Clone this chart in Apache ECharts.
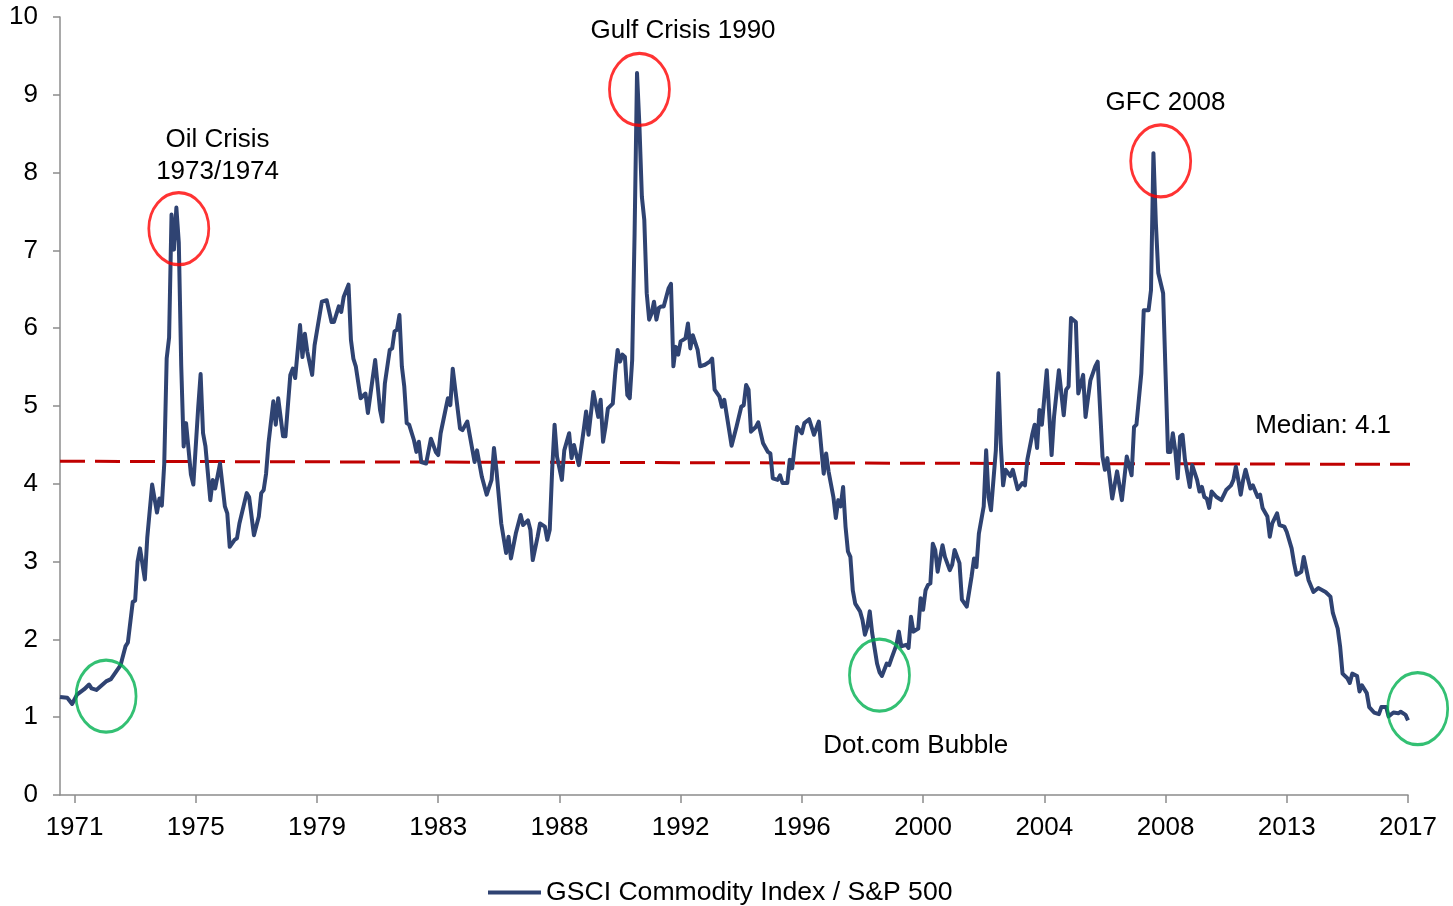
<!DOCTYPE html>
<html>
<head>
<meta charset="utf-8">
<script src="https://cdn.jsdelivr.net/npm/echarts@6/dist/echarts.min.js"></script>
<style>html,body{margin:0;padding:0;background:#fff}#c{width:1453px;height:906px}</style>
</head>
<body>
<div id="c"></div>
<script>
// ---- data ----
const dates = [
'1970-12','1971-03','1971-05','1971-07','1971-10','1971-12','1972-01','1972-03','1972-07','1972-09','1972-11',
'1973-01','1973-03','1973-04','1973-06','1973-07','1973-08','1973-09','1973-11','1973-12',
'1974-02','1974-04','1974-05','1974-06','1974-07','1974-08','1974-09','1974-10','1974-11','1974-12',
'1975-01','1975-02','1975-03','1975-04','1975-06','1975-07','1975-09','1975-10','1975-11','1975-12',
'1976-02','1976-03','1976-04','1976-06','1976-08','1976-09','1976-10','1976-12',
'1977-01','1977-02','1977-05','1977-06','1977-08','1977-10','1977-11','1977-12',
'1978-01','1978-02','1978-04','1978-05','1978-06','1978-08','1978-09','1978-11','1978-12',
'1979-01','1979-03','1979-04','1979-05','1979-06','1979-08','1979-09','1979-12',
'1980-02','1980-04','1980-05','1980-07','1980-08','1980-09','1980-11','1980-12',
'1981-01','1981-02','1981-04','1981-06','1981-07','1981-08','1981-10','1981-12',
'1982-01','1982-02','1982-04','1982-05','1982-06','1982-07','1982-08','1982-09','1982-10','1982-11','1982-12',
'1983-02','1983-03','1983-04','1983-05','1983-07','1983-09','1983-11','1983-12',
'1984-01','1984-04','1984-05','1984-06','1984-09','1984-10','1984-12',
'1985-03','1985-04','1985-06','1985-08','1985-10','1985-11','1985-12',
'1986-02','1986-04','1986-05','1986-06','1986-08','1986-10','1986-11',
'1987-01','1987-02','1987-03','1987-05','1987-06','1987-08','1987-09','1987-10','1987-11','1987-12',
'1988-01','1988-03','1988-04','1988-06','1988-07','1988-08','1988-10','1988-12',
'1989-01','1989-02','1989-04','1989-06','1989-07','1989-08','1989-09','1989-10','1989-12',
'1990-01','1990-02','1990-03','1990-04','1990-05','1990-06','1990-07','1990-08','1990-09','1990-10','1990-11','1990-12',
'1991-01','1991-02','1991-03','1991-04','1991-05','1991-06','1991-07','1991-08','1991-09','1991-11','1991-12',
'1992-01','1992-02','1992-03','1992-04','1992-06','1992-07','1992-08','1992-09','1992-11','1992-12',
'1993-02','1993-04','1993-05','1993-06','1993-08','1993-09','1993-10','1993-12',
'1994-01','1994-03','1994-05','1994-06','1994-07','1994-08','1994-09','1994-11','1994-12',
'1995-02','1995-04','1995-05','1995-06','1995-08','1995-09','1995-10','1995-12',
'1996-01','1996-02','1996-03','1996-04','1996-06','1996-07','1996-09','1996-10','1996-11',
'1997-01','1997-02','1997-03','1997-04','1997-05','1997-07','1997-08','1997-09','1997-10','1997-11','1997-12',
'1998-01','1998-02','1998-03','1998-04','1998-06','1998-07','1998-08','1998-09','1998-10','1998-11',
'1999-01','1999-02','1999-03','1999-05','1999-06','1999-07','1999-09','1999-10','1999-11',
'2000-01','2000-02','2000-03','2000-04','2000-06','2000-07','2000-08','2000-09','2000-10','2000-11','2000-12',
'2001-01','2001-02','2001-04','2001-05','2001-07','2001-08','2001-09','2001-11','2001-12',
'2002-02','2002-04','2002-05','2002-06','2002-07','2002-09','2002-10','2002-11','2002-12',
'2003-02','2003-03','2003-04','2003-05','2003-06','2003-08','2003-09','2003-11',
'2004-01','2004-02','2004-03','2004-05','2004-06','2004-07','2004-08','2004-09','2004-11',
'2005-01','2005-02','2005-04','2005-06','2005-07','2005-08','2005-09','2005-11','2005-12',
'2006-02','2006-03','2006-05','2006-07','2006-08','2006-10','2006-11','2006-12',
'2007-02','2007-04','2007-06','2007-08','2007-10','2007-11','2007-12',
'2008-02','2008-03','2008-05','2008-06','2008-07','2008-08','2008-09','2008-11','2008-12',
'2009-01','2009-02','2009-03','2009-04','2009-05','2009-06','2009-07','2009-08','2009-10','2009-11',
'2010-01','2010-02','2010-03','2010-04','2010-05','2010-06','2010-07','2010-09','2010-11',
'2011-01','2011-03','2011-04','2011-05','2011-06','2011-07','2011-08','2011-09','2011-11','2011-12',
'2012-02','2012-03','2012-04','2012-06','2012-07','2012-08','2012-10','2012-11',
'2013-01','2013-02','2013-04','2013-05','2013-06','2013-08','2013-09','2013-11',
'2014-01','2014-03','2014-06','2014-08','2014-09','2014-11','2014-12',
'2015-01','2015-03','2015-04','2015-05','2015-07','2015-08','2015-09','2015-11','2015-12',
'2016-02','2016-04','2016-05','2016-07','2016-08','2016-10','2016-12',
'2017-01','2017-03','2017-04'
];
const ratio = [
1.26,1.25,1.17,1.29,1.36,1.42,1.37,1.35,1.46,1.49,1.58,
1.67,1.91,1.96,2.48,2.50,3.00,3.17,2.77,3.31,
3.99,3.63,3.81,3.72,4.26,5.61,5.88,7.46,7.01,7.55,
7.10,5.52,4.48,4.78,4.12,3.99,4.98,5.41,4.65,4.48,
3.79,4.05,3.94,4.26,3.71,3.62,3.19,3.28,
3.30,3.49,3.88,3.83,3.34,3.58,3.88,3.92,
4.13,4.52,5.06,4.76,5.10,4.61,4.61,5.40,5.48,
5.36,6.04,5.63,5.93,5.70,5.40,5.78,6.34,
6.36,6.08,6.08,6.28,6.21,6.40,6.56,5.85,
5.61,5.51,5.10,5.16,4.91,5.14,5.59,4.95,
4.80,5.29,5.72,5.74,5.96,5.98,6.17,5.51,5.25,4.78,4.76,
4.56,4.41,4.54,4.28,4.26,4.58,4.41,4.37,
4.65,5.10,5.01,5.48,4.71,4.69,4.80,
4.28,4.43,4.09,3.86,4.05,4.46,4.18,
3.49,3.11,3.32,3.04,3.36,3.60,3.47,
3.53,3.41,3.02,3.32,3.49,3.45,3.28,3.41,4.18,4.76,
4.35,4.05,4.43,4.65,4.33,4.50,4.24,4.69,
4.93,4.63,5.18,4.86,5.08,4.54,4.73,4.97,5.03,
5.42,5.72,5.57,5.66,5.63,5.14,5.10,5.59,7.22,9.28,8.59,7.69,
7.39,6.45,6.11,6.19,6.34,6.11,6.26,6.28,6.28,6.51,6.57,
5.51,5.76,5.66,5.83,5.87,6.06,5.74,5.91,5.72,5.51,
5.53,5.57,5.61,5.21,5.12,4.99,5.08,4.69,
4.49,4.73,4.99,5.01,5.27,5.21,4.67,4.73,4.79,
4.52,4.41,4.39,4.07,4.05,4.11,4.01,4.01,
4.31,4.20,4.48,4.73,4.65,4.78,4.83,4.73,4.63,
4.80,4.46,4.13,4.39,4.16,3.83,3.56,3.79,3.71,3.96,3.45,
3.13,3.06,2.63,2.46,2.36,2.25,2.06,2.16,2.36,2.08,
1.69,1.58,1.53,1.69,1.67,1.76,1.93,2.10,1.91,
1.93,1.89,2.29,2.10,2.14,2.53,2.38,2.63,2.70,2.72,3.23,
3.15,2.87,3.21,3.06,2.89,2.96,3.15,2.98,2.51,
2.42,2.81,3.04,2.93,3.36,3.71,4.43,3.83,3.66,
4.43,5.42,4.52,3.98,4.18,4.10,4.18,3.93,
4.01,3.98,4.31,4.63,4.76,4.46,4.95,4.76,5.46,
4.37,4.86,5.46,4.88,5.21,5.25,6.13,6.08,5.16,
5.40,4.86,5.33,5.51,5.57,4.35,4.18,4.33,
3.81,4.16,3.79,4.35,4.11,4.73,4.76,
5.42,6.23,6.23,6.49,8.25,7.35,6.71,6.45,5.42,
4.41,4.41,4.65,4.43,4.07,4.61,4.63,4.31,3.96,4.24,
4.05,3.90,3.96,3.83,3.81,3.69,3.90,3.83,3.79,
3.92,3.98,4.05,4.22,4.05,3.86,4.05,4.18,3.94,3.98,
3.83,3.86,3.69,3.58,3.32,3.49,3.62,3.47,
3.45,3.38,3.17,2.98,2.83,2.87,3.06,2.76,
2.61,2.66,2.61,2.55,2.34,2.14,1.91,
1.56,1.50,1.44,1.56,1.53,1.33,1.41,1.31,1.13,
1.06,1.04,1.13,1.13,1.01,1.06,1.05,
1.07,1.03,0.96
];
const seriesName = 'GSCI Commodity Index / S&P 500';
const tickDates = ['1971-06','1975-08','1979-10','1983-12','1988-02','1992-04','1996-06','2000-08','2004-10','2008-12','2013-02','2017-04'];
const tickLabels = ['1971','1975','1979','1983','1988','1992','1996','2000','2004','2008','2013','2017'];
const axisStart = '1970-12';
const axisEnd = '2017-04';
const medianDates = ['1970-12','2017-07'];
const medianValues = [4.29, 4.25];
const peakCircleDates = ['1975-01','1990-11','2008-10'];
const peakCircleValues = [7.28, 9.07, 8.15];
const troughCircleDates = ['1972-07','1999-02','2017-08'];
const troughCircleValues = [1.27, 1.54, 1.11];
const noteTexts = ['Oil Crisis\n1973/1974','Gulf Crisis 1990','GFC 2008','Dot.com Bubble','Median: 4.1'];
const noteDates = ['1976-05','1992-05','2008-12','2000-05','2014-05'];
const noteValues = [8.21, 9.82, 8.90, 0.63, 4.75];

// ---- helpers ----
function mi(s){const p=s.split('-').map(Number);return (p[0]-1970)*12+(p[1]-1)-11;}
const FONT = '"Liberation Sans", Arial, sans-serif';
const tickIdx = tickDates.map(mi);
const labelMap = {};
tickIdx.forEach((v,i)=>labelMap[v]=tickLabels[i]);

const chart = echarts.init(document.getElementById('c'), null, {renderer:'canvas'});
chart.setOption({
  animation:false,
  backgroundColor:'#ffffff',
  textStyle:{fontFamily:FONT},
  grid:{left:60,right:45,top:17,bottom:111,containLabel:false},
  legend:{
    data:[{name:seriesName,icon:'rect'}], top:874, left:483,
    itemWidth:53, itemHeight:4, itemGap:5,
    textStyle:{fontSize:26.6,color:'#000',fontFamily:FONT}
  },
  xAxis:{
    type:'value', min:mi(axisStart), max:mi(axisEnd),
    axisLine:{show:true,lineStyle:{color:'#8c8c8c',width:1.5}},
    axisTick:{show:true,length:8,lineStyle:{color:'#8c8c8c',width:1.5},customValues:tickIdx},
    axisLabel:{show:true,customValues:tickIdx,formatter:v=>labelMap[Math.round(v)]||'',fontSize:26,color:'#000',margin:20,fontFamily:FONT},
    splitLine:{show:false}
  },
  yAxis:{
    type:'value', min:0, max:10, interval:1,
    axisLine:{show:true,lineStyle:{color:'#8c8c8c',width:1.5}},
    axisTick:{show:true,length:7,lineStyle:{color:'#8c8c8c',width:1.5}},
    axisLabel:{fontSize:26,color:'#000',margin:22,fontFamily:FONT},
    splitLine:{show:false}
  },
  series:[
    {
      name:'Median', type:'line', symbol:'none', clip:false, silent:true, z:2,
      lineStyle:{color:'#c00000',width:3,type:[25,10]},
      data:medianDates.map((d,i)=>[mi(d),medianValues[i]])
    },
    {
      name:seriesName, type:'line', symbol:'none', showSymbol:false, z:3,
      lineStyle:{color:'#2f4372',width:4,join:'round'},
      itemStyle:{color:'#2f4372'},
      data:dates.map((d,i)=>[mi(d),ratio[i]])
    },
    {
      name:'peaks', type:'scatter', symbol:'circle', symbolSize:[60,72], clip:false, silent:true, z:5,
      itemStyle:{color:'rgba(0,0,0,0)',borderColor:'#ff0000',borderWidth:3},
      data:peakCircleDates.map((d,i)=>[mi(d),peakCircleValues[i]])
    },
    {
      name:'troughs', type:'scatter', symbol:'circle', symbolSize:[60,72], clip:false, silent:true, z:5,
      itemStyle:{color:'rgba(0,0,0,0)',borderColor:'#00b050',borderWidth:3},
      data:troughCircleDates.map((d,i)=>[mi(d),troughCircleValues[i]])
    },
    {
      name:'notes', type:'scatter', symbolSize:1, clip:false, silent:true, z:6,
      itemStyle:{color:'rgba(0,0,0,0)'},
      label:{show:true,position:'inside',formatter:p=>noteTexts[p.dataIndex],fontSize:26,lineHeight:32,color:'#000',textBorderWidth:0,opacity:1,fontFamily:FONT,align:'center',verticalAlign:'middle'},
      data:noteDates.map((d,i)=>[mi(d),noteValues[i]])
    }
  ]
});
</script>
</body>
</html>
